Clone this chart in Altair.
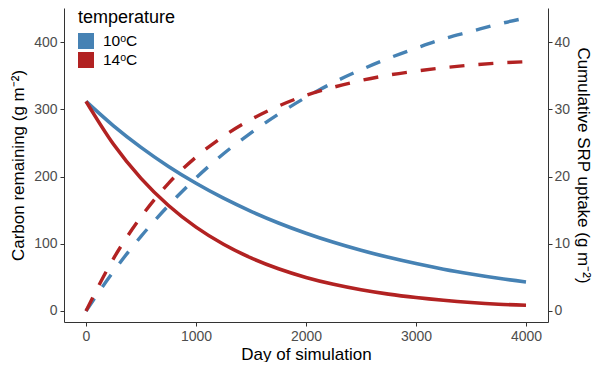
import altair as alt
import pandas as pd

days = [0, 250, 500, 750, 1000, 1250, 1500, 1750, 2000, 2250, 2500, 2750, 3000, 3250, 3500, 3750, 4000]
carbon_10 = [312, 275.6, 243.5, 215.1, 190.0, 167.8, 148.3, 131.0, 115.7, 102.2, 90.3, 79.8, 70.5, 62.2, 55.0, 48.6, 43.2]
carbon_14 = [312, 248.1, 197.4, 157.0, 124.8, 99.3, 79.0, 62.8, 49.9, 39.7, 31.6, 25.1, 20.0, 15.9, 12.6, 10.1, 8.5]
uptake_10 = [0, 5.9, 11.1, 15.7, 19.8, 23.4, 26.5, 29.3, 31.8, 34.0, 35.9, 37.6, 39.1, 40.5, 41.6, 42.7, 43.6]
uptake_14 = [0, 7.8, 14.0, 19.0, 22.9, 26.0, 28.5, 30.5, 32.1, 33.3, 34.3, 35.1, 35.7, 36.2, 36.6, 36.9, 37.1]
temps = ["10ᵒC", "14ᵒC"]
colors = ["#4682B4", "#B22222"]
x_ticks = [0, 1000, 2000, 3000, 4000]
left_ticks = [0, 100, 200, 300, 400]
right_ticks = [0, 10, 20, 30, 40]

n = len(days)
carbon = pd.DataFrame({
    "day": days * 2,
    "carbon": carbon_10 + carbon_14,
    "temperature": [temps[0]] * n + [temps[1]] * n,
})
uptake = pd.DataFrame({
    "day": days * 2,
    "uptake": uptake_10 + uptake_14,
    "temperature": [temps[0]] * n + [temps[1]] * n,
})

color_scale = alt.Scale(domain=temps, range=colors)
legend = alt.Legend(
    title="temperature", orient="none", legendX=14, legendY=1,
    symbolType="square", symbolSize=256, symbolOpacity=1, symbolStrokeWidth=0,
    titleFontSize=18, titleFontWeight="normal", titleColor="black",
    labelFontSize=15.5, labelColor="black", rowPadding=2, titlePadding=6,
    labelOffset=9, padding=0,
)
color_enc = alt.Color("temperature:N", scale=color_scale, legend=legend)

x_enc = alt.X(
    "day:Q",
    scale=alt.Scale(domain=[-200, 4200], nice=False, zero=False),
    axis=alt.Axis(values=x_ticks, format="d", title="Day of simulation", titlePadding=3),
)
y_left = alt.Y(
    "carbon:Q",
    scale=alt.Scale(domain=[-16.4, 450.9], nice=False, zero=False),
    axis=alt.Axis(values=left_ticks, title="Carbon remaining (g m⁻²)", titlePadding=6),
)
y_right = alt.Y(
    "uptake:Q",
    scale=alt.Scale(domain=[-1.64, 45.09], nice=False, zero=False),
    axis=alt.Axis(values=right_ticks, orient="right", title="Cumulative SRP uptake (g m⁻²)",
                  titlePadding=4, labelPadding=2),
)

squares = alt.Chart(carbon).mark_square(opacity=0, size=10, filled=True).encode(
    x=x_enc,
    y=y_left,
    color=color_enc,
)

solid = alt.Chart(carbon).mark_line(strokeWidth=3.6, interpolate="monotone").encode(
    x=x_enc,
    y=y_left,
    color=color_enc,
    order="day:Q",
)

dashed = alt.Chart(uptake).mark_line(strokeWidth=3.4, strokeDash=[15, 14], interpolate="monotone").encode(
    x=x_enc,
    y=y_right,
    color=color_enc,
    order="day:Q",
)

chart = alt.layer(alt.layer(squares, solid), dashed).resolve_scale(y="independent").properties(
    width=484,
    height=314,
    autosize=alt.AutoSizeParams(type="none"),
    padding={"left": 56, "top": 0, "right": 44, "bottom": 40},
).configure(font="Liberation Sans").configure_view(stroke=None).configure_axis(
    grid=False,
    labelColor="#4D4D4D",
    labelFontSize=14,
    titleFontSize=17,
    titleFontWeight="normal",
    titleColor="black",
    domainColor="#333333",
    tickColor="#333333",
    tickSize=4,
    labelPadding=3,
)

chart.save("out.html", embed_options={"renderer": "svg", "actions": False})
